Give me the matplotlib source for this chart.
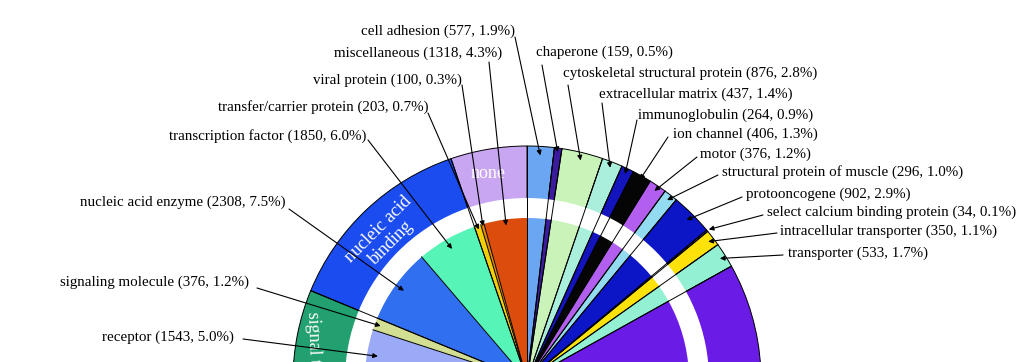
import numpy as np
import matplotlib
matplotlib.use("Agg")
import matplotlib.pyplot as plt
from matplotlib.patches import Circle

# ---------------- data ----------------
classes = ["cell adhesion", "chaperone", "cytoskeletal structural protein",
           "extracellular matrix", "immunoglobulin", "ion channel", "motor",
           "structural protein of muscle", "protooncogene",
           "select calcium binding protein", "intracellular transporter",
           "transporter", "other (below crop)", "receptor", "signaling molecule",
           "nucleic acid enzyme", "transcription factor",
           "transfer/carrier protein", "viral protein", "miscellaneous"]
counts = [577, 159, 876, 437, 264, 406, 376, 296, 902, 34, 350, 533,
          17892, 1543, 376, 2308, 1850, 203, 100, 1318]
percents = [1.9, 0.5, 2.8, 1.4, 0.9, 1.3, 1.2, 1.0, 2.9, 0.1, 1.1, 1.7,
            None, 5.0, 1.2, 7.5, 6.0, 0.7, 0.3, 4.3]
class_colors = ["#6aa6f2", "#3b1c9e", "#c9f3b9", "#a9efdc", "#1414bf",
                "#050505", "#b25ff0", "#93dbf1", "#0c16c6", "#9160df",
                "#fde20a", "#94f0d2", "#6b1be6", "#9aaaf6", "#d2df92",
                "#2f6ff0", "#56f4b6", "#f2cf0a", "#e08a06", "#dc4c0c"]
groups = ["cell adhesion", "chaperone", "cytoskeletal structural protein",
          "extracellular matrix", "immunoglobulin", "ion channel", "motor",
          "structural protein of muscle", "protooncogene",
          "select calcium binding protein", "intracellular transporter",
          "transporter", "other (below crop)", "signal transduction",
          "nucleic acid binding", "none"]
group_members = [1, 1, 1, 1, 1, 1, 1, 1, 1, 1, 1, 1, 1, 2, 2, 3]
group_colors = ["#6aa6f2", "#3b1c9e", "#c9f3b9", "#a9efdc", "#1414bf",
                "#050505", "#b25ff0", "#93dbf1", "#0c16c6", "#9160df",
                "#fde20a", "#94f0d2", "#6b1be6", "#22a070", "#1b4cf0",
                "#c9a6f1"]

# ---------------- layout (pixel units) ----------------
W, H = 1024, 362
CX, CY = 527, -18
R_OUT, R_GAP_OUT, R_IN = 234, 182, 162

fig = plt.figure(figsize=(W / 100, H / 100), dpi=100)
ax = fig.add_axes([0, 0, 1, 1])

# group values from class counts
gvals = []
i = 0
for n in group_members:
    gvals.append(sum(counts[i:i + n]))
    i += n

ax.pie(gvals, colors=group_colors, radius=R_OUT, center=(CX, CY),
       startangle=90, counterclock=False,
       wedgeprops=dict(edgecolor="black", linewidth=0.7))
ax.add_patch(Circle((CX, CY), R_GAP_OUT, facecolor="white",
                    edgecolor="none", zorder=3))
ax.pie(counts, colors=class_colors, radius=R_IN, center=(CX, CY),
       startangle=90, counterclock=False,
       wedgeprops=dict(edgecolor="none", linewidth=0, zorder=4))
for w in ax.patches[-len(counts):]:
    w.set_zorder(4)

total = float(sum(counts))
cum = np.concatenate([[0], np.cumsum(counts)])
ang = 90 - 360 * cum / total
gcum = np.concatenate([[0], np.cumsum(gvals)])
gang = 90 - 360 * gcum / total

# radial boundary lines
for a in ang:
    t = np.deg2rad(a)
    ax.plot([CX, CX + R_IN * np.cos(t)], [CY, CY + R_IN * np.sin(t)],
            color="black", lw=0.7, zorder=5)
for a in gang:
    t = np.deg2rad(a)
    ax.plot([CX, CX + R_OUT * np.cos(t)], [CY, CY + R_OUT * np.sin(t)],
            color="black", lw=0.7, zorder=5)

# ---------------- labels ----------------
# (class index, text anchor x, text centre y (image px), tail x, tail y (image px), tip radius, side)
label_specs = [
    (0, 515, 31, 515, 37, 225, "L"),
    (19, 502, 53, 489, 62, 156, "L"),
    (18, 462, 80, 462, 85, 160, "L"),
    (17, 429, 107, 428, 113, 158, "L"),
    (16, 366, 136, 368, 140, 151, "L"),
    (15, 286, 202, 289, 209, 152, "L"),
    (14, 249, 282, 257, 288, 156, "L"),
    (13, 234, 337, 243, 339, 151, "L"),
    (1, 536, 52, 542, 65, 230, "R"),
    (2, 563, 73, 568, 85, 226, "R"),
    (3, 599, 94, 602, 103, 228, "R"),
    (4, 638, 115, 637, 120, 228, "R"),
    (5, 673, 134, 668, 137, 230, "R"),
    (6, 700, 154, 697, 157, 228, "R"),
    (7, 722, 172, 718, 175, 228, "R"),
    (8, 746, 194, 742, 197, 226, "R"),
    (9, 767, 212, 763, 215, 236, "R"),
    (10, 780, 231, 777, 233, 228, "R"),
    (11, 788, 253, 783, 255, 228, "R"),
]
FONT = "Liberation Serif"
for idx, tx, ty, ax_, ay_, rtip, side in label_specs:
    txt = f"{classes[idx]} ({counts[idx]}, {percents[idx]:.1f}%)"
    ax.text(tx, H - ty, txt, ha="right" if side == "L" else "left",
            va="center", fontsize=10.8, family=FONT, color="black",
            zorder=10)
    mid = np.deg2rad((ang[idx] + ang[idx + 1]) / 2)
    tip = (CX + rtip * np.cos(mid), CY + rtip * np.sin(mid))
    ax.annotate("", xy=tip, xytext=(ax_, H - ay_),
                arrowprops=dict(arrowstyle="-|>", color="black", lw=0.8,
                                mutation_scale=7, shrinkA=0, shrinkB=0),
                zorder=11)

# group labels inside outer ring (the signal label is clipped by the crop, as in the reference)
ax.text(488, H - 174, "none", ha="center", va="center", fontsize=13,
        family=FONT, color="white", zorder=6)
ax.text(385, H - 236, "nucleic acid\nbinding", ha="center", va="center",
        fontsize=13, family=FONT, color="white", rotation=45,
        linespacing=1.05, zorder=6)
ax.text(315, H - 311, "signal transduction", ha="center", va="top",
        fontsize=13, family=FONT, color="white", rotation=-88, zorder=6)

ax.set_xlim(0, W)
ax.set_ylim(0, H)
ax.set_aspect("auto")
ax.axis("off")
fig.savefig("out.png", dpi=100)
